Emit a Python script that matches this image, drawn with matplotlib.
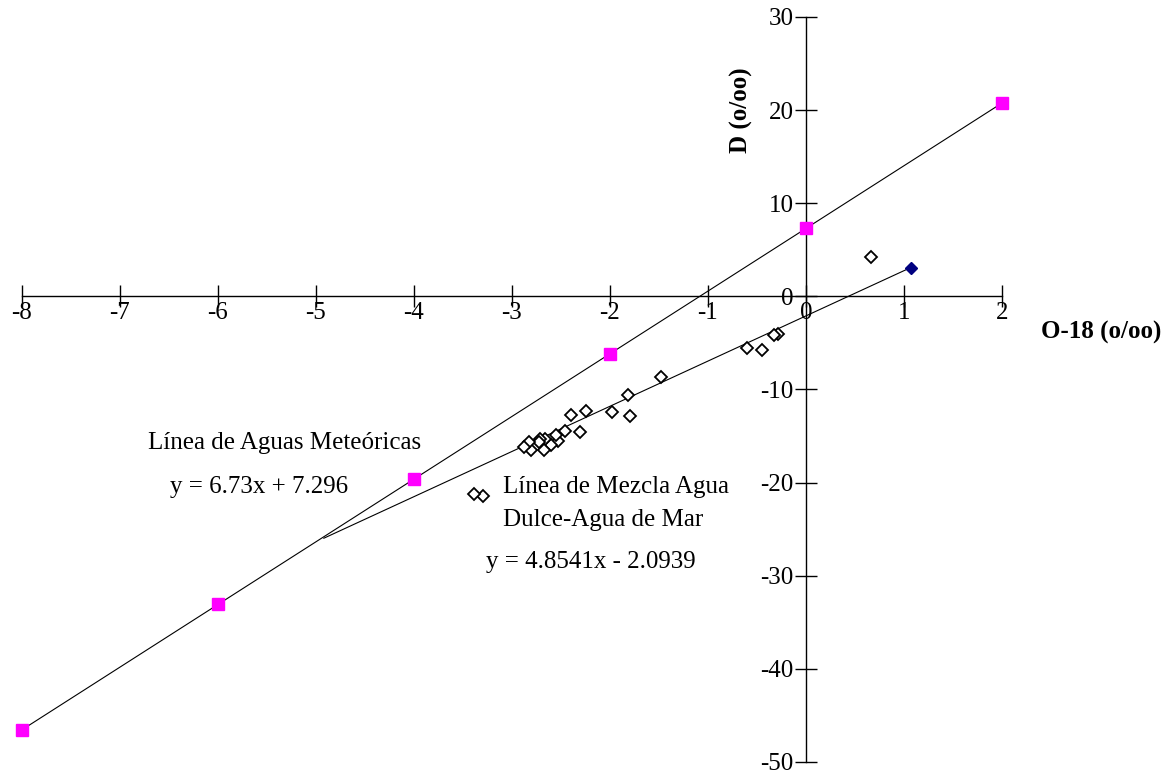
import matplotlib.pyplot as plt
import numpy as np

# Linea de aguas meteoricas (magenta squares)
met_x = [-8, -6, -4, -2, 0, 2]
met_y = [-46.54, -33.08, -19.62, -6.16, 7.30, 20.76]

# muestras (open diamonds)
samp_x = [0.66, -0.29, -0.33, -0.45, -0.60, -1.48, -1.82, -1.80, -1.98, -2.24,
          -2.40, -2.31, -2.46, -2.53, -2.55, -2.60, -2.66, -2.67, -2.71, -2.72,
          -2.81, -2.83, -2.88, -3.30, -3.39]
samp_y = [4.2, -3.99, -4.2, -5.81, -5.49, -8.66, -10.56, -12.83, -12.44, -12.33,
          -12.69, -14.6, -14.47, -15.5, -14.9, -16.0, -15.3, -16.5, -15.3, -15.65,
          -16.5, -15.65, -16.2, -21.4, -21.2]

# agua de mar (blue diamond)
sea_x = [1.07]
sea_y = [3.0]

# mixing line ends
mix_x = [-4.92, 1.07]
mix_y = [-25.97, 3.10]

xticks = list(range(-8, 3))
yticks = list(range(-50, 31, 10))

plt.rcParams['font.family'] = ['Liberation Serif', 'DejaVu Serif']
plt.rcParams['axes.unicode_minus'] = False

fs = 18

fig = plt.figure(figsize=(11.69, 7.76), dpi=100)
ax = fig.add_axes([22/1169, 14/776, 980/1169, 745/776])

ax.plot(met_x, met_y, color='black', lw=0.8, zorder=2)
ax.plot(mix_x, mix_y, color='black', lw=0.8, zorder=2)
ax.plot(met_x, met_y, ls='none', marker='s', ms=8, color='#ff00ff', zorder=3, clip_on=False)
ax.plot(samp_x, samp_y, ls='none', marker='D', ms=6, mfc='white', mec='black', mew=1.3, zorder=3, clip_on=False)
ax.plot(sea_x, sea_y, ls='none', marker='D', ms=6.5, color='#000080', zorder=3, clip_on=False)

ax.set_xlim(-8, 2)
ax.set_ylim(-50, 30)
ax.spines['left'].set_position(('data', 0))
ax.spines['bottom'].set_position(('data', 0))
ax.spines['top'].set_visible(False)
ax.spines['right'].set_visible(False)
for s in ['left', 'bottom']:
    ax.spines[s].set_linewidth(1.0)
ax.set_xticks(xticks)
ax.set_yticks(yticks)
ax.tick_params(axis='both', direction='inout', length=16, width=1.0, labelsize=fs)
ax.tick_params(axis='x', pad=-4)
ax.tick_params(axis='y', pad=1)

fig.text(1101/1169, 1-332/776, 'O-18 (o/oo)', fontsize=fs, fontweight='bold', ha='center', va='center')
fig.text(741/1169, 1-110/776, 'D (o/oo)', fontsize=fs, fontweight='bold', ha='center', va='center', rotation=90)

fig.text(148/1169, 1-443/776, 'Línea de Aguas Meteóricas', fontsize=fs, va='center')
fig.text(170/1169, 1-487/776, 'y = 6.73x + 7.296', fontsize=fs, va='center')
fig.text(503/1169, 1-487/776, 'Línea de Mezcla Agua', fontsize=fs, va='center')
fig.text(503/1169, 1-520/776, 'Dulce-Agua de Mar', fontsize=fs, va='center')
fig.text(486/1169, 1-562/776, 'y = 4.8541x - 2.0939', fontsize=fs, va='center')

fig.savefig('out.png', dpi=100)
